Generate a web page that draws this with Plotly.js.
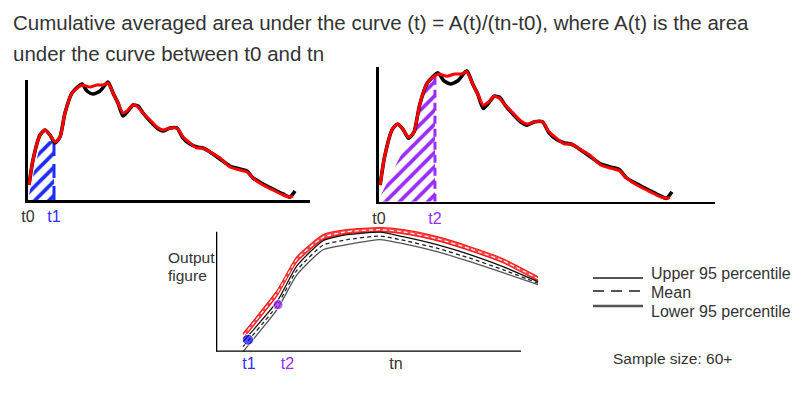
<!DOCTYPE html>
<html>
<head>
<meta charset="utf-8">
<script src="https://cdn.plot.ly/plotly-3.0.1.min.js"></script>
<style>html,body{margin:0;padding:0;background:#fff;}#chart{width:803px;height:395px;}</style>
</head>
<body>
<div id="chart"></div>
<script>
// ---------- data ----------
// top panels: the raw curve (same curve in both panels)
var redT   = [1, 5, 12, 17, 22, 27, 32, 37, 44, 54, 62, 69, 75, 80, 85, 90, 95, 100, 105, 110, 115, 122, 129, 135, 142, 149, 155, 162, 169, 175, 182, 192, 202, 212, 219, 225, 235, 245, 255, 262, 265];
var redV   = [15, 40, 65, 70, 65, 58, 63, 87, 107, 115, 113, 115, 115, 117, 107, 97, 87, 90, 95, 93, 87, 80, 73, 70, 72, 72, 63, 57, 52, 52, 48, 42, 33, 30, 28, 22, 15, 10, 5, 3, 4];
var blackT = [1, 5, 12, 17, 22, 27, 32, 37, 44, 54, 59, 65, 72, 80, 85, 90, 95, 100, 105, 110, 115, 122, 129, 135, 142, 149, 155, 162, 169, 175, 182, 192, 202, 212, 219, 225, 235, 245, 255, 262, 267];
var blackV = [15, 40, 65, 70, 65, 57, 63, 87, 107, 116, 109, 106, 109, 118, 107, 97, 84, 89, 95, 94, 87, 79, 72, 69, 72, 72, 62, 56, 53, 52, 48, 41, 34, 31, 29, 22, 16, 11, 6, 3, 9];
// hatched areas
var hatch1T = [0, 2, 7, 12, 17, 26];
var hatch1V = [0, 10, 33, 55, 60, 58];
var hatch2T = [0, 1, 13, 27, 33, 40, 44, 51];
var hatch2V = [0, 4.5, 28.5, 55.6, 64.6, 100.6, 105, 114];
var t1 = 26, t2 = 51;
// bottom panel: output figure bands
var bx      = [27, 61, 81, 107, 131, 164, 187, 221, 254, 287, 322];
var redUp   = [18, 61, 95, 117, 122, 124, 122, 115, 105, 93, 75];
var redLo   = [13, 56, 90, 112, 118, 120, 118, 111, 101, 89, 71];
var redMean = [15.5, 58.5, 92.5, 114.5, 120, 122, 120, 113, 103, 91, 73];
var blkUp   = [10, 50, 86, 111, 117, 119.5, 115, 107, 97, 85, 70];
var blkLo   = [0, 42, 77, 102, 107, 112, 108, 100, 90, 79, 67];
var blkMean = [5, 46, 81.5, 106.5, 112, 115.7, 111.5, 103.5, 93.5, 82, 68.5];
var dotsX = [32, 62];
var dotsY = [12, 47];
var bottomTickVals = [33, 71.5, 180];
var bottomTickText = ['<span style="color:#2f2fff">t1</span>', '<span style="color:#9a2cff">t2</span>', 'tn'];
var legendLabels = ['Upper 95 percentile', 'Mean', 'Lower 95 percentile'];
var titleLines = ['Cumulative averaged area under the curve (t) = A(t)/(tn-t0), where A(t) is the area', 'under the curve between t0 and tn'];

// ---------- layout helpers ----------
var W = 803, H = 395;
function px(x) { return x / W; }
function py(y) { return 1 - y / H; }
var BLUE = '#1c2cff', PURPLE = '#9a2cff', TXT = '#333333';
var SM = 0.6;

var traces = [];
function curvePair(xa, ya) {
  traces.push({x: blackT, y: blackV, xaxis: xa, yaxis: ya, mode: 'lines', line: {color: '#000', width: 3.6, shape: 'spline', smoothing: SM}, hoverinfo: 'skip'});
  traces.push({x: redT, y: redV, xaxis: xa, yaxis: ya, mode: 'lines', line: {color: '#ff0000', width: 3, shape: 'spline', smoothing: SM}, hoverinfo: 'skip'});
}
// panel 1
traces.push({x: hatch1T, y: hatch1V, xaxis: 'x', yaxis: 'y', mode: 'none', fill: 'tozeroy', fillcolor: 'rgba(0,0,0,0)',
  fillpattern: {shape: '/', fgcolor: BLUE, bgcolor: 'rgba(255,255,255,0)', size: 10, solidity: 0.38}, hoverinfo: 'skip'});
traces.push({x: [t1, t1], y: [0, hatch1V[hatch1V.length - 1]], xaxis: 'x', yaxis: 'y', mode: 'lines', line: {color: BLUE, width: 3, dash: '14px,8px'}, hoverinfo: 'skip'});
curvePair('x', 'y');
// panel 2
traces.push({x: hatch2T, y: hatch2V, xaxis: 'x2', yaxis: 'y2', mode: 'none', fill: 'tozeroy', fillcolor: 'rgba(0,0,0,0)',
  fillpattern: {shape: '/', fgcolor: PURPLE, bgcolor: 'rgba(255,255,255,0)', size: 10, solidity: 0.38}, hoverinfo: 'skip'});
traces.push({x: [t2, t2], y: [0, hatch2V[hatch2V.length - 1]], xaxis: 'x2', yaxis: 'y2', mode: 'lines', line: {color: PURPLE, width: 3, dash: '8px,5px'}, hoverinfo: 'skip'});
curvePair('x2', 'y2');
// panel 3: red band
var bs = {shape: 'spline', smoothing: 0.5};
traces.push({x: bx, y: redLo, xaxis: 'x3', yaxis: 'y3', mode: 'lines', line: Object.assign({color: '#ff1a1a', width: 1.2}, bs), hoverinfo: 'skip'});
traces.push({x: bx, y: redUp, xaxis: 'x3', yaxis: 'y3', mode: 'lines', fill: 'tonexty', fillcolor: 'rgba(255,40,40,0.85)', line: Object.assign({color: '#ff1a1a', width: 1.2}, bs), hoverinfo: 'skip'});
traces.push({x: bx, y: redMean, xaxis: 'x3', yaxis: 'y3', mode: 'lines', line: Object.assign({color: '#ffffff', width: 1.2, dash: '4px,3px'}, bs), hoverinfo: 'skip'});
// panel 3: black band
traces.push({x: bx, y: blkUp, xaxis: 'x3', yaxis: 'y3', mode: 'lines', line: Object.assign({color: '#111', width: 1.3}, bs), hoverinfo: 'skip'});
traces.push({x: bx, y: blkMean, xaxis: 'x3', yaxis: 'y3', mode: 'lines', line: Object.assign({color: '#222', width: 1.3, dash: '4px,3px'}, bs), hoverinfo: 'skip'});
traces.push({x: bx, y: blkLo, xaxis: 'x3', yaxis: 'y3', mode: 'lines', line: Object.assign({color: '#555', width: 1.3}, bs), hoverinfo: 'skip'});
// dots at t1, t2
traces.push({x: dotsX, y: dotsY, xaxis: 'x3', yaxis: 'y3', mode: 'markers', marker: {size: [11, 10], color: ['#0a0aff', '#9a1cff']}, hoverinfo: 'skip', cliponaxis: false});

function xax(domain, range, tickvals, ticktext, showline, anchor) {
  return {domain: domain, range: range, anchor: anchor, showgrid: false, zeroline: false, showline: showline, linecolor: '#000', linewidth: 2.6,
    tickmode: 'array', tickvals: tickvals, ticktext: ticktext, ticks: '', ticklabelstandoff: 0,
    tickfont: {family: 'Liberation Sans, Arial, sans-serif', size: 16, color: TXT}, fixedrange: true};
}
function yax(domain, range, showline, anchor) {
  return {domain: domain, range: range, anchor: anchor, showgrid: false, zeroline: false, showline: showline, linecolor: '#000', linewidth: 2.6,
    showticklabels: false, ticks: '', fixedrange: true};
}

var layout = {
  width: W, height: H, margin: {l: 0, r: 0, t: 0, b: 0}, paper_bgcolor: '#fff', plot_bgcolor: 'rgba(0,0,0,0)',
  showlegend: false,
  font: {family: 'Liberation Sans, Arial, sans-serif', color: TXT},
  xaxis:  xax([px(28), px(310)], [0, 282], [0, t1], ['t0', '<span style="color:#2f2fff">t1</span>'], true, 'y'),
  yaxis:  yax([py(200), py(80)], [0, 120], true, 'x'),
  xaxis2: xax([px(379), px(715)], [0, 306.3], [0, t2], ['t0', '<span style="color:#9a2cff">t2</span>'], true, 'y2'),
  yaxis2: yax([py(201.7), py(66.7)], [0, 121.6], true, 'x2'),
  xaxis3: xax([px(216), px(545)], [0, 329], bottomTickVals, bottomTickText, false, 'y3'),
  yaxis3: yax([py(351.7), py(221.7)], [0, 130], false, 'x3'),
  shapes: [
    {type: 'line', xref: 'x3', yref: 'y3', x0: 0, x1: 305, y0: 0, y1: 0, line: {color: '#000', width: 2.6}},
    {type: 'line', xref: 'x3', yref: 'y3', x0: 0, x1: 0, y0: 0, y1: 120, line: {color: '#000', width: 2.6}},
    {type: 'line', xref: 'paper', yref: 'paper', x0: px(593), x1: px(643), y0: py(278), y1: py(278), line: {color: '#555', width: 2}},
    {type: 'line', xref: 'paper', yref: 'paper', x0: px(593), x1: px(643), y0: py(291), y1: py(291), line: {color: '#555', width: 2, dash: '11px,7px'}},
    {type: 'line', xref: 'paper', yref: 'paper', x0: px(593), x1: px(643), y0: py(306), y1: py(306), line: {color: '#555', width: 2.4}}
  ],
  annotations: [
    {text: titleLines[0], xref: 'paper', yref: 'paper', x: px(11), y: py(23), xanchor: 'left', yanchor: 'middle', showarrow: false, font: {size: 20.5, color: TXT}},
    {text: titleLines[1], xref: 'paper', yref: 'paper', x: px(11), y: py(53), xanchor: 'left', yanchor: 'middle', showarrow: false, font: {size: 20.5, color: TXT}},
    {text: 'Output', xref: 'paper', yref: 'paper', x: px(166), y: py(257), xanchor: 'left', yanchor: 'middle', showarrow: false, font: {size: 15.5, color: TXT}},
    {text: 'figure', xref: 'paper', yref: 'paper', x: px(166), y: py(275), xanchor: 'left', yanchor: 'middle', showarrow: false, font: {size: 15.5, color: TXT}},
    {text: legendLabels[0], xref: 'paper', yref: 'paper', x: px(649), y: py(273.5), xanchor: 'left', yanchor: 'middle', showarrow: false, font: {size: 16, color: TXT}},
    {text: legendLabels[1], xref: 'paper', yref: 'paper', x: px(649), y: py(292), xanchor: 'left', yanchor: 'middle', showarrow: false, font: {size: 16, color: TXT}},
    {text: legendLabels[2], xref: 'paper', yref: 'paper', x: px(649), y: py(311), xanchor: 'left', yanchor: 'middle', showarrow: false, font: {size: 16, color: TXT}},
    {text: 'Sample size: 60+', xref: 'paper', yref: 'paper', x: px(611), y: py(358), xanchor: 'left', yanchor: 'middle', showarrow: false, font: {size: 15.5, color: TXT}}
  ]
};
Plotly.newPlot('chart', traces, layout, {staticPlot: true, displayModeBar: false});
</script>
</body>
</html>
